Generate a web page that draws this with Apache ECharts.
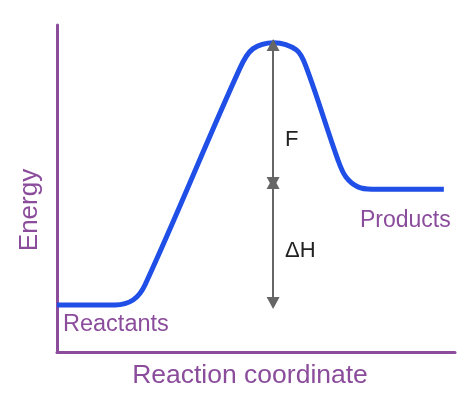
<!DOCTYPE html>
<html><head><meta charset="utf-8">
<script src="https://cdn.jsdelivr.net/npm/echarts@6/dist/echarts.min.js"></script>
<style>html,body{margin:0;padding:0;background:#fff}#c{width:472px;height:403px}</style>
</head><body><div id="c"></div>
<script>
// Reaction coordinate (0-100) and energy (0-100)
var pathX = [0, 14.6, 19.1, 22.1, 46.0, 49.2, 54.5, 60.1, 62.5, 70.6, 72.6, 75.6, 79.1, 97.2];
var pathY = [14.4, 14.4, 15.9, 20.5, 86.9, 92.7, 94.6, 92.4, 87.5, 58.7, 53.5, 50.5, 49.8, 49.8];
var arrowX = 54.3;
var levelReact = 15.0, levelProd = 51.7, levelPeak = 93.9;
var labels = { x: 'Reaction coordinate', y: 'Energy', r: 'Reactants', p: 'Products', f: 'F', h: 'ΔH' };

var purple = '#8a4c9b';
var font = 'Liberation Sans, Arial, Helvetica, sans-serif';
var chart = echarts.init(document.getElementById('c'));
var curve = pathX.map(function (x, i) { return [x, pathY[i]]; });
chart.setOption({
  animation: false,
  grid: { left: 57, right: 17, top: 25, bottom: 51 },
  xAxis: { type: 'value', min: 0, max: 100, axisLine: { show: true, lineStyle: { color: purple, width: 3 } },
    axisTick: { show: false }, axisLabel: { show: false }, splitLine: { show: false } },
  yAxis: { type: 'value', min: 0, max: 100, axisLine: { show: true, lineStyle: { color: purple, width: 3 } },
    axisTick: { show: false }, axisLabel: { show: false }, splitLine: { show: false } },
  series: [
    { type: 'line', data: curve, smooth: 0.35, symbol: 'none', lineStyle: { color: '#1f4fe6', width: 5 }, z: 3 },
    { type: 'line', data: [], markLine: { silent: true, symbol: ['triangle', 'triangle'], symbolSize: [13, 12],
        label: { show: false }, lineStyle: { color: '#666', width: 2, type: 'solid' },
        data: [
          [{ coord: [arrowX, levelProd] }, { coord: [arrowX, levelPeak] }],
          [{ coord: [arrowX, levelReact] }, { coord: [arrowX, levelProd] }]
        ] }, z: 4 }
  ],
  graphic: [
    { type: 'text', style: { text: labels.x, font: '26.5px ' + font, fill: purple, x: 250, y: 376, align: 'center', verticalAlign: 'middle' } },
    { type: 'text', x: 30, y: 210, rotation: Math.PI / 2, style: { text: labels.y, font: '26px ' + font, fill: purple, align: 'center', verticalAlign: 'middle' } },
    { type: 'text', style: { text: labels.r, font: '23.5px ' + font, fill: purple, x: 63, y: 325, align: 'left', verticalAlign: 'middle' } },
    { type: 'text', style: { text: labels.p, font: '23px ' + font, fill: purple, x: 360, y: 221, align: 'left', verticalAlign: 'middle' } },
    { type: 'text', style: { text: labels.f, font: '22px ' + font, fill: '#222', x: 285, y: 140, align: 'left', verticalAlign: 'middle' } },
    { type: 'text', style: { text: labels.h, font: '22px ' + font, fill: '#222', x: 285, y: 251, align: 'left', verticalAlign: 'middle' } }
  ]
});
</script></body></html>
